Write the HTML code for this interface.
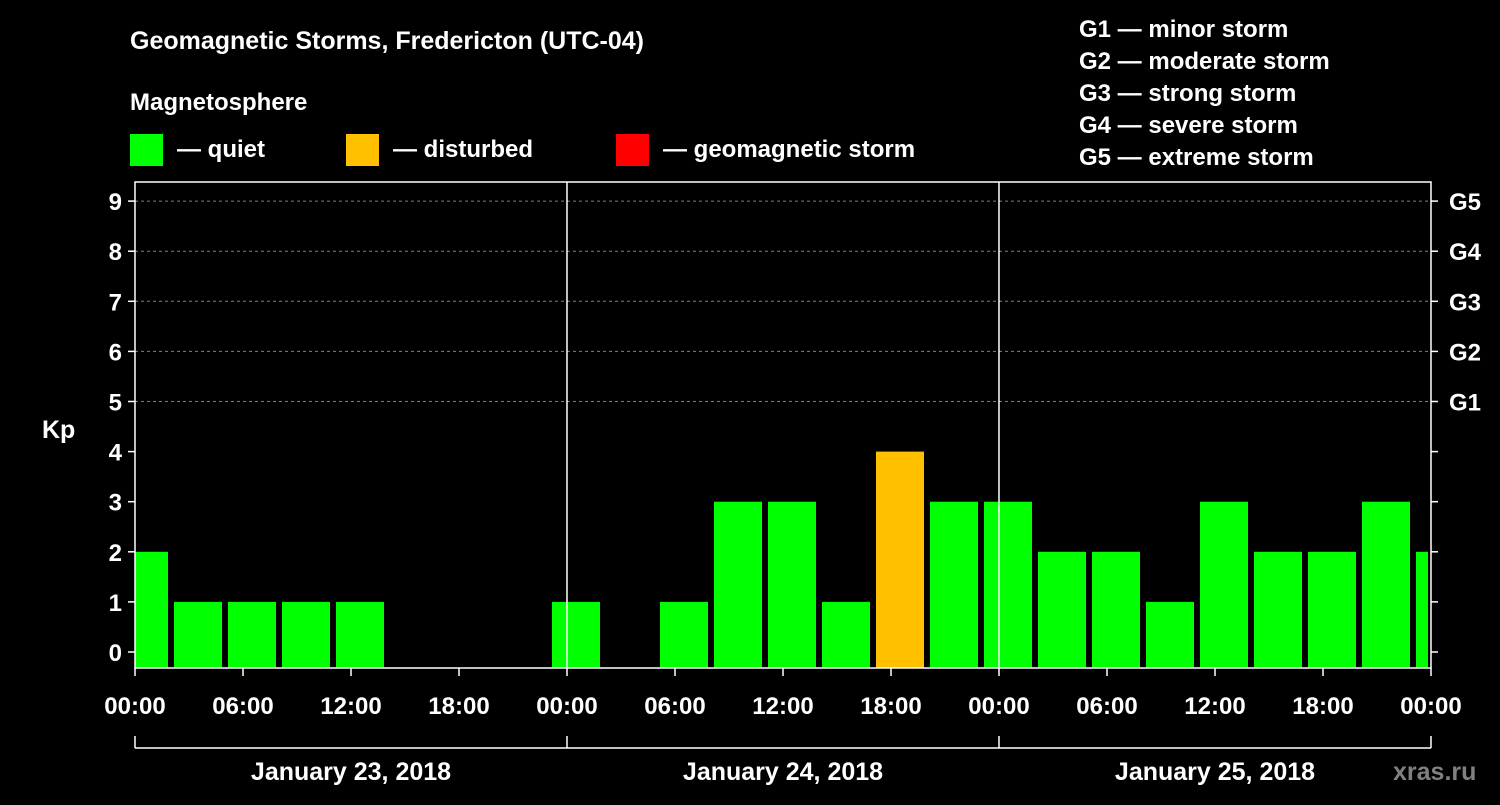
<!DOCTYPE html>
<html><head><meta charset="utf-8"><style>
body{margin:0;background:#000;width:1500px;height:800px;overflow:hidden}
text{font-family:"Liberation Sans",sans-serif;font-weight:bold;fill:#fff}
</style></head><body>
<svg id="chart" width="1500" height="800" xmlns="http://www.w3.org/2000/svg">
<text x="130" y="49" font-size="25">Geomagnetic Storms, Fredericton (UTC-04)</text>
<text x="130" y="110" font-size="24">Magnetosphere</text>
<rect x="130" y="134" width="33" height="32" fill="#00ff00"/>
<text x="177" y="157" font-size="24">— quiet</text>
<rect x="346" y="134" width="33" height="32" fill="#ffc000"/>
<text x="393" y="157" font-size="24">— disturbed</text>
<rect x="616" y="134" width="33" height="32" fill="#ff0000"/>
<text x="663" y="157" font-size="24">— geomagnetic storm</text>
<g font-size="24">
<text x="1079" y="37">G1 — minor storm</text>
<text x="1079" y="69">G2 — moderate storm</text>
<text x="1079" y="101">G3 — strong storm</text>
<text x="1079" y="133">G4 — severe storm</text>
<text x="1079" y="165">G5 — extreme storm</text>
</g>
<text x="42" y="438" font-size="25">Kp</text>
<g id="grid"></g><g id="bars"></g><g id="axes"></g>
<text x="1393" y="780" font-size="25" style="fill:#808080">xras.ru</text>
</svg>
<script>
const kpValues=[2,1,1,1,1,0,0,0,1,0,1,3,3,1,4,3,3,2,2,1,3,2,2,3,2];
const binStartHour=-1;
const yTicks=[0,1,2,3,4,5,6,7,8,9];
const gLabels=["G1","G2","G3","G4","G5"];
const xTickLabels=["00:00","06:00","12:00","18:00","00:00","06:00","12:00","18:00","00:00","06:00","12:00","18:00","00:00"];
const dayLabels=["January 23, 2018","January 24, 2018","January 25, 2018"];
const X0=135,X1=1431,TOP=182,BOT=668;
const x=h=>X0+h*18;
const y=v=>652-v*50.1;
const NS="http://www.w3.org/2000/svg";
function mk(p,t,a){const e=document.createElementNS(NS,t);for(const k in a)e.setAttribute(k,a[k]);p.appendChild(e);return e;}
const grid=document.getElementById('grid'),bars=document.getElementById('bars'),axes=document.getElementById('axes');
yTicks.forEach(v=>{
 if(v>=5){const l=mk(grid,'line',{x1:X0,x2:X1,y1:y(v),y2:y(v),stroke:'#808080','stroke-dasharray':'3,3'});
 
 }
 mk(axes,'line',{x1:X0-7,x2:X0,y1:y(v),y2:y(v),stroke:'#fff','stroke-width':1.5});
 mk(axes,'line',{x1:X1,x2:X1+7,y1:y(v),y2:y(v),stroke:'#fff','stroke-width':1.5});
 const t=mk(axes,'text',{x:X0-13,y:y(v)+9,'text-anchor':'end','font-size':24});t.textContent=v;
 
 
});
gLabels.forEach((g,i)=>{const t=mk(axes,'text',{x:X1+18,y:y(5+i)+9,'font-size':24});t.textContent=g;
 
 });
kpValues.forEach((v,i)=>{
 const h=binStartHour+3*i;
 let a=x(h)+3,b=x(h+3)-3;a=Math.max(a,X0);b=Math.min(b,X1-3);
 if(b<=a)return;
 const col=v>=5?'#ff0000':v>=4?'#ffc000':'#00ff00';
 const top=v===0?BOT:y(v);
 const r=mk(bars,'rect',{x:a,y:top,width:b-a,height:BOT-top,fill:col});
 
 
});
mk(axes,'rect',{x:X0,y:TOP,width:X1-X0,height:BOT-TOP,fill:'none',stroke:'#fff','stroke-width':1.5});
[24,48].forEach(h=>mk(axes,'line',{x1:x(h),x2:x(h),y1:TOP,y2:BOT,stroke:'#fff','stroke-width':1.5}));
xTickLabels.forEach((s,i)=>{
 mk(axes,'line',{x1:x(i*6),x2:x(i*6),y1:BOT,y2:BOT+8,stroke:'#fff','stroke-width':1.5});
 const t=mk(axes,'text',{x:x(i*6),y:714,'text-anchor':'middle','font-size':24});t.textContent=s;
 
 
});
mk(axes,'line',{x1:X0,x2:X1,y1:748,y2:748,stroke:'#fff','stroke-width':1.5});
[0,24,48,72].forEach(h=>mk(axes,'line',{x1:x(h),x2:x(h),y1:736,y2:748,stroke:'#fff','stroke-width':1.5}));
dayLabels.forEach((s,i)=>{const t=mk(axes,'text',{x:x(i*24+12),y:780,'text-anchor':'middle','font-size':25});t.textContent=s;
 
 });
</script>
</body></html>
